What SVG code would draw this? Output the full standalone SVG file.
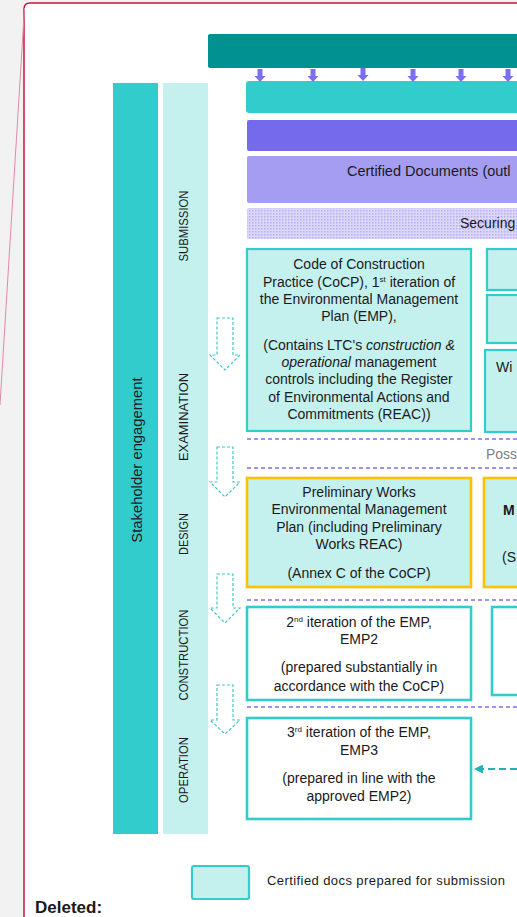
<svg xmlns="http://www.w3.org/2000/svg" width="517" height="917" viewBox="0 0 517 917">
<style>
text{font-family:"Liberation Sans",Arial,sans-serif;fill:#1a1a1a}
.t{font-size:14px;text-anchor:middle}
.ph{font-size:13px;text-anchor:middle}
.cert{fill:#c4f0ee;stroke:#33cccc;stroke-width:2.2}
.wbox{fill:#ffffff;stroke:#33cccc;stroke-width:2.6}
.obox{fill:#c4f0ee;stroke:#ffc000;stroke-width:2.6}
.sep{stroke:#7d72ee;stroke-width:1.6;stroke-dasharray:4 3;fill:none}
.harrow{fill:#ffffff;stroke:#45c6c6;stroke-width:1.2;stroke-dasharray:3 2}
.parrow{fill:#7b6ef0}
.sup{font-size:8px}
</style>
<defs>
<pattern id="dots" width="3" height="3" patternUnits="userSpaceOnUse">
<rect width="3" height="3" fill="#dcd8fb"/>
<rect width="1.5" height="1.5" fill="#b3adf4"/>
</pattern>
<marker id="ah" viewBox="0 0 10 10" refX="1" refY="5" markerWidth="9" markerHeight="9" markerUnits="userSpaceOnUse" orient="auto-start-reverse">
<path d="M0,0 L10,5 L0,10 z" fill="#1fb3b3"/>
</marker>
</defs>
<rect width="517" height="917" fill="#f2f2f2"/>
<path d="M24,917 V9 Q24,3 30,3 H517 V917 Z" fill="#ffffff"/>
<path d="M24,917 V9 Q24,3 30,3 H517" fill="none" stroke="#c8143c" stroke-width="1.5"/>
<line x1="24.5" y1="8" x2="0" y2="405" stroke="#e08aa4" stroke-width="1"/>

<g id="stakeholder">
<rect x="113" y="83" width="45" height="751" fill="#33cccc"/>
<text transform="translate(142,460) rotate(-90)" style="font-size:14.8px;text-anchor:middle">Stakeholder engagement</text>
</g>
<g id="phases">
<rect x="163" y="83" width="45" height="751" fill="#c4f0ee"/>
<text class="ph" transform="translate(188,226) rotate(-90)" textLength="71" lengthAdjust="spacingAndGlyphs">SUBMISSION</text>
<text class="ph" transform="translate(188,417) rotate(-90)" textLength="88" lengthAdjust="spacingAndGlyphs">EXAMINATION</text>
<text class="ph" transform="translate(188,534) rotate(-90)" textLength="42" lengthAdjust="spacingAndGlyphs">DESIGN</text>
<text class="ph" transform="translate(188,655) rotate(-90)" textLength="91" lengthAdjust="spacingAndGlyphs">CONSTRUCTION</text>
<text class="ph" transform="translate(188,770) rotate(-90)" textLength="66" lengthAdjust="spacingAndGlyphs">OPERATION</text>
</g>

<g id="top-bar"><rect x="208" y="34" width="320" height="34" rx="2" fill="#009190"/></g>
<g id="bar-turquoise"><rect x="246" y="81" width="280" height="32" rx="3" fill="#33cccc"/></g>
<g id="bar-purple"><rect x="247" y="120" width="280" height="31" rx="2" fill="#7569ec"/></g>
<g id="bar-certified">
<rect x="247" y="156" width="280" height="47" rx="2" fill="#a59df2"/>
<text x="347" y="176" style="font-size:14.5px">Certified Documents (outl</text>
</g>
<g id="bar-securing">
<rect x="247" y="208" width="280" height="31" rx="2" fill="url(#dots)"/>
<text x="460" y="228" style="font-size:14px">Securing</text>
</g>

<g id="cocp">
<rect class="cert" x="247" y="249" width="224" height="182"/>
<text class="t" x="359" y="269">Code of Construction</text>
<text class="t" x="359" y="287">Practice (CoCP), 1<tspan class="sup" dy="-5">st</tspan><tspan dy="5"> iteration of</tspan></text>
<text class="t" x="359" y="304">the Environmental Management</text>
<text class="t" x="359" y="321">Plan (EMP),</text>
<text class="t" x="359" y="350">(Contains LTC's <tspan font-style="italic">construction &amp;</tspan></text>
<text class="t" x="359" y="367"><tspan font-style="italic">operational</tspan> management</text>
<text class="t" x="359" y="384">controls including the Register</text>
<text class="t" x="359" y="402">of Environmental Actions and</text>
<text class="t" x="359" y="419">Commitments (REAC))</text>
</g>
<g id="right-a"><rect class="cert" x="487" y="249" width="40" height="41"/></g>
<g id="right-b"><rect class="cert" x="487" y="295" width="40" height="48"/></g>
<g id="right-c">
<rect class="cert" x="485" y="350" width="42" height="82"/>
<text x="496" y="372" style="font-size:14px">Wi</text>
</g>

<g id="poss"><text x="486" y="459" style="font-size:14px;fill:#808080">Poss</text></g>

<g id="prelim">
<rect class="obox" x="247" y="478" width="224" height="109"/>
<text class="t" x="359" y="497">Preliminary Works</text>
<text class="t" x="359" y="514">Environmental Management</text>
<text class="t" x="359" y="532">Plan (including Preliminary</text>
<text class="t" x="359" y="549">Works REAC)</text>
<text class="t" x="359" y="578">(Annex C of the CoCP)</text>
</g>
<g id="right-orange">
<rect class="obox" x="484" y="478" width="43" height="109"/>
<text x="503" y="515" style="font-size:14px;font-weight:bold">M</text>
<text x="502" y="562" style="font-size:14px">(S</text>
</g>

<g id="emp2">
<rect class="wbox" x="247" y="607" width="224" height="93"/>
<text class="t" x="359" y="627">2<tspan class="sup" dy="-5">nd</tspan><tspan dy="5"> iteration of the EMP,</tspan></text>
<text class="t" x="359" y="644">EMP2</text>
<text class="t" x="359" y="672">(prepared substantially in</text>
<text class="t" x="359" y="691">accordance with the CoCP)</text>
</g>
<g id="right-white"><rect class="wbox" x="492" y="607" width="35" height="88"/></g>

<g id="emp3">
<rect class="wbox" x="247" y="718" width="224" height="101"/>
<text class="t" x="359" y="737">3<tspan class="sup" dy="-5">rd</tspan><tspan dy="5"> iteration of the EMP,</tspan></text>
<text class="t" x="359" y="755">EMP3</text>
<text class="t" x="359" y="783">(prepared in line with the</text>
<text class="t" x="359" y="801">approved EMP2)</text>
</g>

<g id="legend">
<rect class="cert" x="192" y="866" width="57" height="33" rx="2"/>
<text x="267" y="885" style="font-size:13px" textLength="238">Certified docs prepared for submission</text>
</g>
<g id="deleted"><text x="35" y="913" style="font-size:17px;font-weight:bold">Deleted:</text></g>

<g id="connectors">
<path class="parrow" d="M257.5,69 h5 v7 h3 l-5.5,6 l-5.5,-6 h3 z"/>
<path class="parrow" d="M310.5,69 h5 v7 h3 l-5.5,6 l-5.5,-6 h3 z"/>
<path class="parrow" d="M360.5,68 h5 v7 h3 l-5.5,6 l-5.5,-6 h3 z"/>
<path class="parrow" d="M410.5,69 h5 v7 h3 l-5.5,6 l-5.5,-6 h3 z"/>
<path class="parrow" d="M458.5,69 h5 v7 h3 l-5.5,6 l-5.5,-6 h3 z"/>
<path class="parrow" d="M505.5,69 h5 v7 h3 l-5.5,6 l-5.5,-6 h3 z"/>
<path class="harrow" d="M217,318 H233 V355 H240 L225,370 L210,355 H217 Z"/>
<path class="harrow" d="M217,447 H233 V482 H240 L225,497 L210,482 H217 Z"/>
<path class="harrow" d="M217,574 H233 V608 H240 L225,623 L210,608 H217 Z"/>
<path class="harrow" d="M217,685 H233 V720 H240 L225,734 L210,720 H217 Z"/>
<line class="sep" x1="247" y1="439" x2="517" y2="439"/>
<line class="sep" x1="247" y1="468" x2="517" y2="468"/>
<line class="sep" x1="247" y1="600" x2="517" y2="600"/>
<line class="sep" x1="247" y1="707" x2="517" y2="707"/>
<line x1="517" y1="769" x2="482" y2="769" stroke="#1fb3b3" stroke-width="1.8" stroke-dasharray="7 4" marker-end="url(#ah)"/>
</g>
</svg>
